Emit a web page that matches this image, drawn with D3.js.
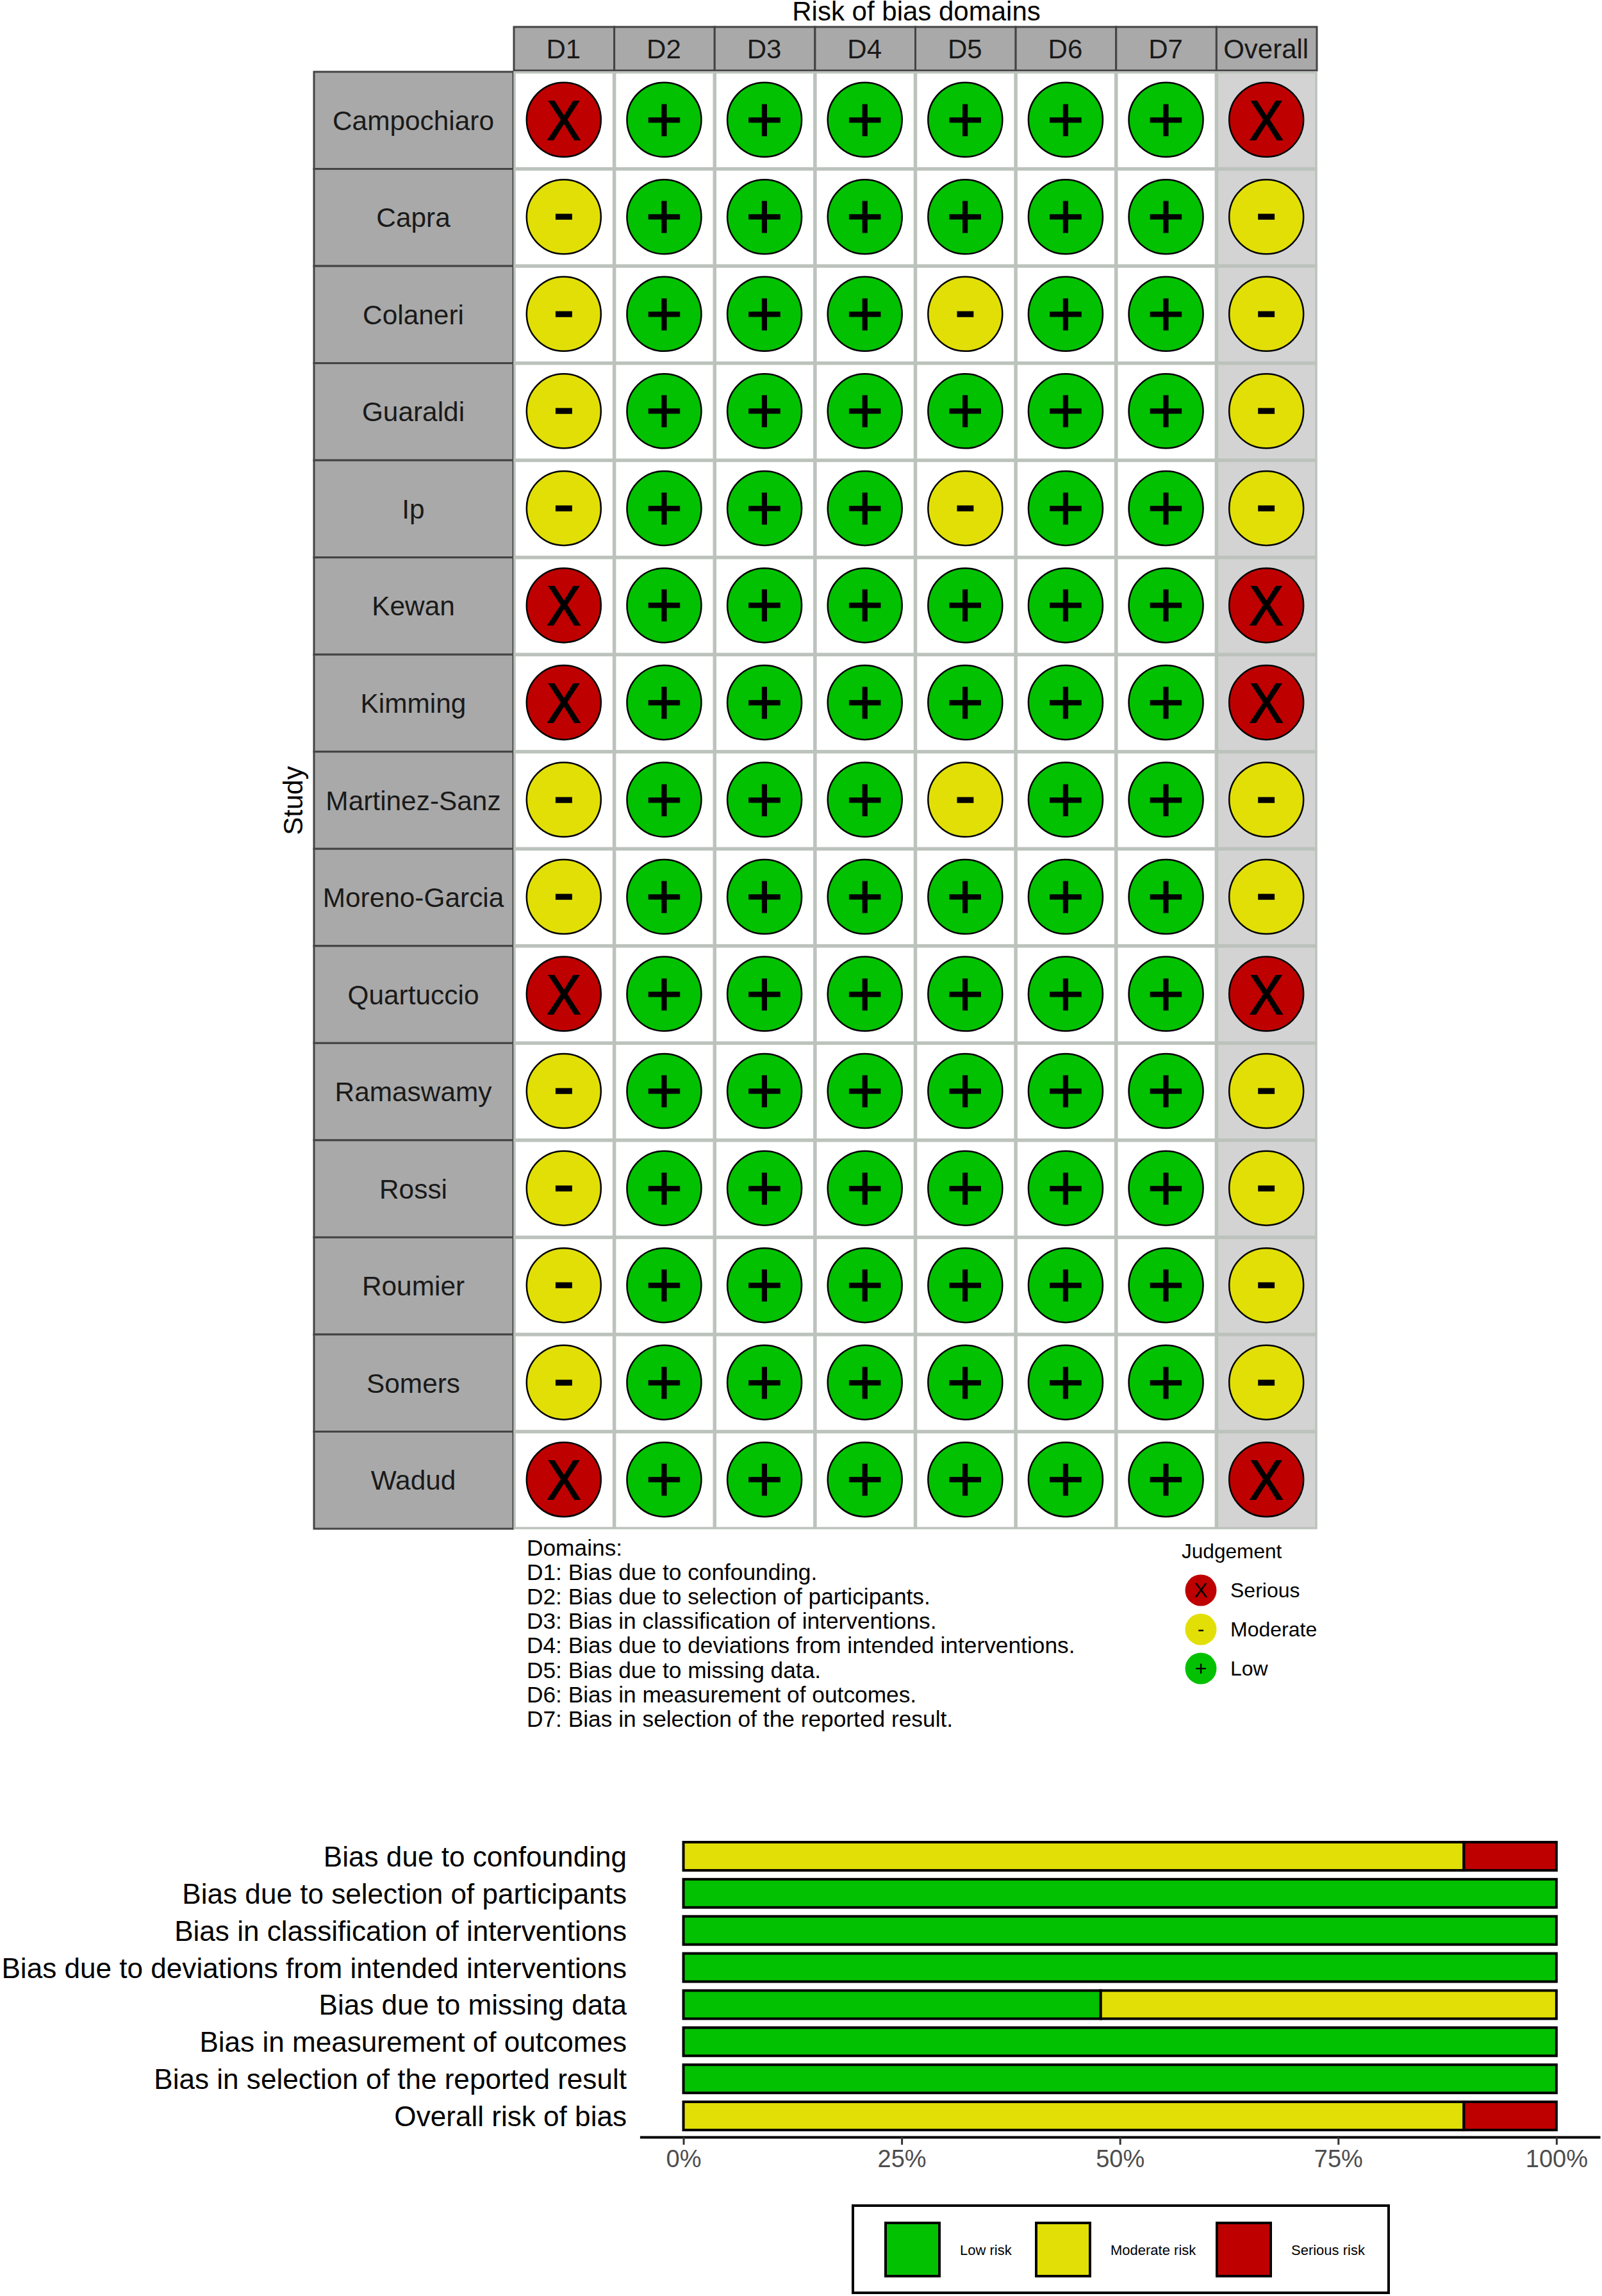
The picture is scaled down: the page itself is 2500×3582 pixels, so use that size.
<!DOCTYPE html>
<html><head><meta charset="utf-8">
<script src="https://cdn.jsdelivr.net/npm/d3@7"></script>
<style>html,body{margin:0;padding:0;background:#fff}svg{display:block;font-family:"Liberation Sans",Arial,sans-serif}</style>
</head><body><div id="c"></div>
<script>
const studies=["Campochiaro","Capra","Colaneri","Guaraldi","Ip","Kewan","Kimming","Martinez-Sanz","Moreno-Garcia","Quartuccio","Ramaswamy","Rossi","Roumier","Somers","Wadud"];
const domains=["D1","D2","D3","D4","D5","D6","D7","Overall"];
const d1=["X","-","-","-","-","X","X","-","-","X","-","-","-","-","X"];
const d2=["+","+","+","+","+","+","+","+","+","+","+","+","+","+","+"];
const d3col=["+","+","+","+","+","+","+","+","+","+","+","+","+","+","+"];
const d4=["+","+","+","+","+","+","+","+","+","+","+","+","+","+","+"];
const d5=["+","+","-","+","-","+","+","-","+","+","+","+","+","+","+"];
const d6=["+","+","+","+","+","+","+","+","+","+","+","+","+","+","+"];
const d7=["+","+","+","+","+","+","+","+","+","+","+","+","+","+","+"];
const overall=["X","-","-","-","-","X","X","-","-","X","-","-","-","-","X"];
const judgementColumns=[d1,d2,d3col,d4,d5,d6,d7,overall];
const domainNotes=["Domains:","D1: Bias due to confounding.","D2: Bias due to selection of participants.","D3: Bias in classification of interventions.","D4: Bias due to deviations from intended interventions.","D5: Bias due to missing data.","D6: Bias in measurement of outcomes.","D7: Bias in selection of the reported result."];
const judgementLabels=[["X","Serious"],["-","Moderate"],["+","Low"]];
const barLabels=["Bias due to confounding","Bias due to selection of participants","Bias in classification of interventions","Bias due to deviations from intended interventions","Bias due to missing data","Bias in measurement of outcomes","Bias in selection of the reported result","Overall risk of bias"];
const lowShare=[0,1,1,1,0.478,1,1,0];
const moderateShare=[0.894,0,0,0,0.522,0,0,0.894];
const seriousShare=[0.106,0,0,0,0,0,0,0.106];
const riskKeys=["Low risk","Moderate risk","Serious risk"];
const xTicks=[0,0.25,0.5,0.75,1];

const RED="#BF0000",YEL="#E2DF07",GRN="#02C100";
const symColor={"X":RED,"-":YEL,"+":GRN};
const glyphSize={"X":88,"-":100,"+":100};
const glyphDrop={"X":31,"-":27,"+":34};
const glyphSqueeze={"X":0.9,"-":1,"+":1};
const glyphBold={"X":2,"-":1.5,"+":1};
const svg=d3.select("#c").append("svg").attr("width",2500).attr("height",3582);

// ---- traffic light plot
const x=d3.scaleBand().domain(domains).range([802,2055]);
const y=d3.scaleBand().domain(studies).range([112,2385]);
const GRID="#bcc2bc",DARK="#444";

svg.append("text").attr("x",1430).attr("y",32).attr("text-anchor","middle").attr("font-size",42).attr("fill","#000").text("Risk of bias domains");
svg.append("text").attr("transform","translate(472,1249) rotate(-90)").attr("text-anchor","middle").attr("font-size",42).attr("fill","#000").text("Study");

const hdr=svg.append("g");
hdr.selectAll("rect").data(domains).join("rect")
 .attr("x",d=>x(d)).attr("y",42).attr("width",x.bandwidth()).attr("height",68)
 .attr("fill","#A9A9A9").attr("stroke",DARK).attr("stroke-width",3);
hdr.selectAll("text").data(domains).join("text")
 .attr("x",d=>x(d)+x.bandwidth()/2-1).attr("y",91).attr("text-anchor","middle").attr("font-size",42).attr("fill","#1a1a1a").text(d=>d);

const strip=svg.append("g");
strip.selectAll("rect").data(studies).join("rect")
 .attr("x",490).attr("y",d=>y(d)).attr("width",311).attr("height",y.bandwidth())
 .attr("fill","#A9A9A9").attr("stroke",DARK).attr("stroke-width",3);
strip.selectAll("text").data(studies).join("text")
 .attr("x",645).attr("y",d=>y(d)+y.bandwidth()/2+15).attr("text-anchor","middle").attr("font-size",42.4).attr("fill","#1a1a1a").text(d=>d);

const cells=[];
judgementColumns.forEach((col,i)=>col.forEach((v,j)=>cells.push({dom:domains[i],study:studies[j],v})));

const cg=svg.append("g");
cg.selectAll("rect").data(cells).join("rect")
 .attr("x",d=>x(d.dom)+1).attr("y",d=>y(d.study)+1).attr("width",x.bandwidth()-2).attr("height",y.bandwidth()-2)
 .attr("fill",d=>d.dom==="Overall"?"#D3D3D3":"#fff").attr("stroke",GRID).attr("stroke-width",3.5);
const cx=d=>x(d.dom)+x.bandwidth()/2-0.5, cy=d=>y(d.study)+y.bandwidth()/2-1;
cg.selectAll("circle").data(cells).join("circle")
 .attr("cx",cx).attr("cy",cy).attr("r",58)
 .attr("fill",d=>symColor[d.v]).attr("stroke","#000").attr("stroke-width",2.5);
cg.selectAll("text").data(cells).join("text")
 .attr("transform",d=>`translate(${cx(d)},${cy(d)+glyphDrop[d.v]}) scale(${glyphSqueeze[d.v]},1)`)
 .attr("text-anchor","middle").attr("font-size",d=>glyphSize[d.v])
 .attr("fill","#000").attr("stroke","#000").attr("stroke-width",d=>glyphBold[d.v]).text(d=>d.v);

// notes
svg.append("g").selectAll("text").data(domainNotes).join("text")
 .attr("x",822).attr("y",(d,i)=>2427+i*38.1).attr("font-size",35.3).attr("fill","#000").text(d=>d);

svg.append("text").attr("x",1844).attr("y",2431).attr("font-size",31.6).attr("fill","#000").text("Judgement");
const ly=d3.scalePoint().domain(judgementLabels.map(d=>d[0])).range([2481,2603]);
const lg=svg.append("g");
lg.selectAll("circle").data(judgementLabels).join("circle")
 .attr("cx",1874).attr("cy",d=>ly(d[0])).attr("r",24.5).attr("fill",d=>symColor[d[0]]);
lg.selectAll("text.s").data(judgementLabels).join("text").attr("class","s")
 .attr("x",1874).attr("y",d=>ly(d[0])+(d[0]==="-"?10:11)).attr("text-anchor","middle").attr("font-size",32).attr("fill","#000").text(d=>d[0]);
lg.selectAll("text.l").data(judgementLabels).join("text").attr("class","l")
 .attr("x",1920).attr("y",d=>ly(d[0])+11).attr("font-size",32).attr("fill","#000").text(d=>d[1]);

// ---- summary bars
const bx=d3.scaleLinear().domain([-0.05,1.05]).range([998.4,2497]);
const by=d3.scaleBand().domain(barLabels).range([2867,3330]).paddingInner(0.24).paddingOuter(0.12);
const rows=barLabels.map((l,i)=>({label:l,"Low risk":lowShare[i],"Moderate risk":moderateShare[i],"Serious risk":seriousShare[i]}));
const stacked=d3.stack().keys(riskKeys)(rows);
const fill=d3.scaleOrdinal().domain(riskKeys).range([GRN,YEL,RED]);
const bars=svg.append("g");
stacked.forEach(s=>{
 bars.append("g").selectAll("rect").data(s.filter(d=>d[1]-d[0]>0)).join("rect")
  .attr("x",d=>bx(d[0])).attr("width",d=>bx(d[1])-bx(d[0]))
  .attr("y",d=>by(d.data.label)).attr("height",by.bandwidth())
  .attr("fill",fill(s.key)).attr("stroke","#000").attr("stroke-width",4);
});
svg.append("g").selectAll("text").data(barLabels).join("text")
 .attr("x",978).attr("y",d=>by(d)+by.bandwidth()/2+16).attr("text-anchor","end").attr("font-size",44.1).attr("fill","#000").text(d=>d);

const axis=d3.axisBottom(bx).tickValues(xTicks).tickFormat(d3.format(".0%")).tickSize(12).tickSizeOuter(0);
const ag=svg.append("g").attr("transform","translate(0,3334)").call(axis);
ag.select(".domain").attr("stroke","#000").attr("stroke-width",4);
ag.selectAll(".tick line").attr("stroke","#333").attr("stroke-width",3);
ag.selectAll(".tick text").attr("font-family",'"Liberation Sans",Arial,sans-serif').attr("font-size",38).attr("fill","#4d4d4d").attr("y",20).attr("dy","0.71em");

// risk legend
svg.append("rect").attr("x",1331).attr("y",3441).attr("width",836).attr("height",136).attr("fill","#fff").attr("stroke","#000").attr("stroke-width",4);
const keyX=d3.scaleOrdinal().domain(riskKeys).range([1382,1617,1899]);
const lk=svg.append("g");
lk.selectAll("rect").data(riskKeys).join("rect")
 .attr("x",d=>keyX(d)).attr("y",3468).attr("width",84).attr("height",83)
 .attr("fill",d=>fill(d)).attr("stroke","#000").attr("stroke-width",4);
lk.selectAll("text").data(riskKeys).join("text")
 .attr("x",d=>keyX(d)+116).attr("y",3518).attr("font-size",22).attr("fill","#000").text(d=>d);
</script></body></html>
